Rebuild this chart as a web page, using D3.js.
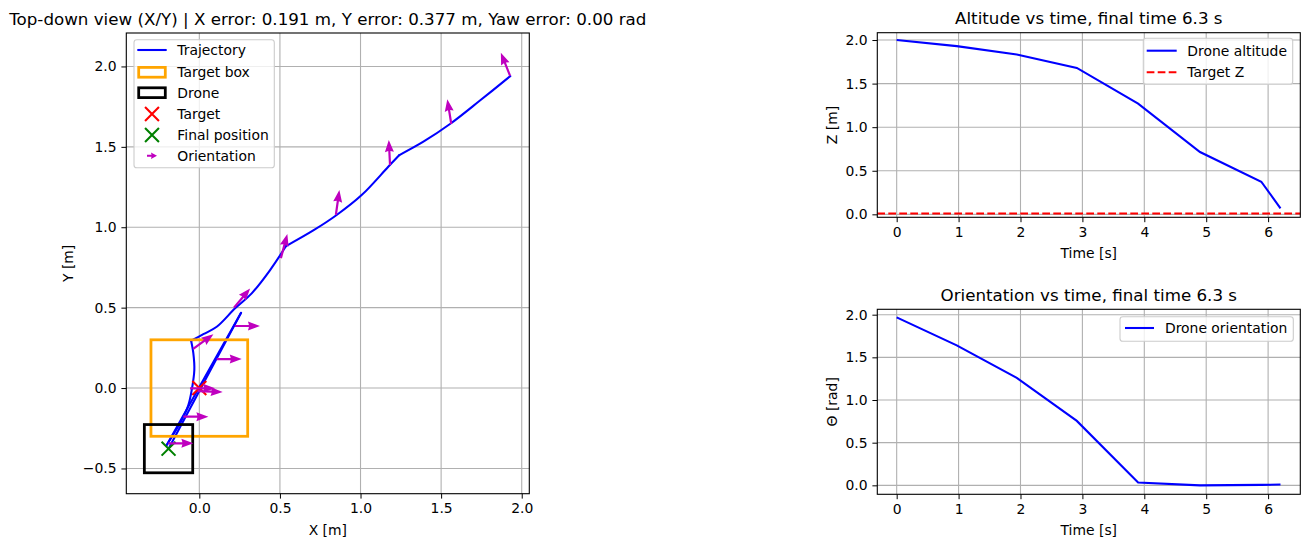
<!DOCTYPE html>
<html>
<head>
<meta charset="utf-8">
<script src="https://cdn.jsdelivr.net/npm/d3@7"></script>
<style>
body { margin: 0; background: #fff; }
text { font-family: 'DejaVu Sans', sans-serif; fill: #000; }
</style>
</head>
<body>
<div id="chart"></div>
<script>
// ---- data ----
// top-down trajectory (m)
const trajX = [1.929, 1.741, 1.555, 1.39, 1.241, 1.172, 1.007, 0.852, 0.707, 0.538, 0.439, 0.325, 0.222, 0.108, 0.025, -0.051,
  -0.037, -0.031, -0.047, -0.068, -0.109, -0.202, 0.259, -0.191];
const trajY = [1.940, 1.788, 1.642, 1.532, 1.449, 1.376, 1.200, 1.076, 0.98, 0.883, 0.734, 0.589, 0.496, 0.381, 0.335, 0.294,
  0.216, 0.112, -0.012, -0.106, -0.199, -0.354, 0.468, -0.377];
// indices where the path has a corner
const trajCorners = [0, 4, 9, 15, 21, 22, 23];
// orientation arrows: base position and heading (rad)
const arrowX = [1.928, 1.563, 1.183, 0.847, 0.506, 0.215, -0.038, 0.221, 0.108, -0.058, -0.010, -0.099, -0.192];
const arrowY = [1.941, 1.642, 1.387, 1.077, 0.808, 0.500, 0.243, 0.386, 0.180, -0.002, -0.019, -0.178, -0.344];
const arrowTheta = [1.95, 1.73, 1.62, 1.43, 1.31, 0.87, 0.63, 0, 0, 0, -0.04, 0, 0];
const targetPos = [0, 0];
const finalPos = [-0.191, -0.377];
const targetHalf = 0.3;
const droneHalf = 0.15;

// time series
const timeS = [0, 0.97, 1.94, 2.91, 3.9, 4.9, 5.89, 6.2];
const altitude = [2.0, 1.93, 1.835, 1.68, 1.27, 0.715, 0.374, 0.069];
const orientation = [1.969, 1.64, 1.26, 0.755, 0.033, 0.0, 0.005, 0.01];
const targetZ = 0.01;

// ticks
const xyTicksX = [0, 0.5, 1.0, 1.5, 2.0];
const xyTicksY = [-0.5, 0, 0.5, 1.0, 1.5, 2.0];
const timeTicks = [0, 1, 2, 3, 4, 5, 6];
const zTicks = [0, 0.5, 1.0, 1.5, 2.0];
const thetaTicks = [0, 0.5, 1.0, 1.5, 2.0];

// ---- styles ----
const width = 1309;
const height = 547;
const tickFont = '13.9px';
const titleFont = '16.7px';
const gridColor = '#b0b0b0';
const blue = '#0000ff';
const magenta = '#bf00bf';
const orange = '#ffa500';
const fmt = d3.format('.1f');

const svg = d3.select('#chart')
  .append('svg')
  .attr('width', width)
  .attr('height', height);

// generic axes frame with grid, ticks, labels
function makeAxes(box, xDomain, yDomain, xTicks, yTicks, xFmt, title, xLabel, yLabel, yLabelX) {
  const x = d3.scaleLinear().domain(xDomain).range([box.left, box.right]);
  const y = d3.scaleLinear().domain(yDomain).range([box.bottom, box.top]);
  const g = svg.append('g');

  g.append('g').selectAll('line.gx').data(xTicks).join('line')
    .attr('x1', d => x(d)).attr('x2', d => x(d))
    .attr('y1', box.top).attr('y2', box.bottom)
    .attr('stroke', gridColor).attr('stroke-width', 1.1);
  g.append('g').selectAll('line.gy').data(yTicks).join('line')
    .attr('y1', d => y(d)).attr('y2', d => y(d))
    .attr('x1', box.left).attr('x2', box.right)
    .attr('stroke', gridColor).attr('stroke-width', 1.1);

  g.append('g')
    .attr('transform', `translate(0,${box.bottom})`)
    .call(d3.axisBottom(x).tickValues(xTicks).tickFormat(xFmt).tickSize(4.9).tickPadding(4.9))
    .call(a => a.select('.domain').remove())
    .call(a => a.selectAll('text').style('font-size', tickFont).style('font-family', "'DejaVu Sans'").attr('fill', '#000'));
  g.append('g')
    .attr('transform', `translate(${box.left},0)`)
    .call(d3.axisLeft(y).tickValues(yTicks).tickFormat(fmt).tickSize(4.9).tickPadding(4.9))
    .call(a => a.select('.domain').remove())
    .call(a => a.selectAll('text').style('font-size', tickFont).style('font-family', "'DejaVu Sans'").attr('fill', '#000'));

  g.append('text')
    .attr('x', (box.left + box.right) / 2)
    .attr('y', box.top - 8.3)
    .attr('text-anchor', 'middle')
    .style('font-size', titleFont)
    .text(title);
  g.append('text')
    .attr('x', (box.left + box.right) / 2)
    .attr('y', box.bottom + 40.8)
    .attr('text-anchor', 'middle')
    .style('font-size', tickFont)
    .text(xLabel);
  g.append('text')
    .attr('transform', `translate(${yLabelX},${(box.top + box.bottom) / 2}) rotate(-90)`)
    .attr('text-anchor', 'middle')
    .style('font-size', tickFont)
    .text(yLabel);

  return {x, y, g, box};
}

function drawFrame(ax) {
  ax.g.append('rect')
    .attr('x', ax.box.left).attr('y', ax.box.top)
    .attr('width', ax.box.right - ax.box.left)
    .attr('height', ax.box.bottom - ax.box.top)
    .attr('fill', 'none').attr('stroke', '#000').attr('stroke-width', 1.1);
}

function xMark(g, cx, cy, color) {
  const s = 6.95;
  g.append('path')
    .attr('d', `M${cx - s},${cy - s}L${cx + s},${cy + s}M${cx - s},${cy + s}L${cx + s},${cy - s}`)
    .attr('stroke', color).attr('stroke-width', 2.08).attr('fill', 'none');
}

// quiver style arrow, pivot at the tail
function arrowPath(L, w, hl, hal, hw) {
  return `M0,${-w / 2}L${L - hal},${-w / 2}L${L - hl},${-hw / 2}L${L},0L${L - hl},${hw / 2}L${L - hal},${w / 2}L0,${w / 2}Z`;
}

function legendBox(g, x0, y0, w, h) {
  g.append('rect')
    .attr('x', x0).attr('y', y0).attr('width', w).attr('height', h)
    .attr('rx', 2.8)
    .attr('fill', '#fff').attr('fill-opacity', 0.8)
    .attr('stroke', '#cccccc').attr('stroke-width', 1.1);
}

// ---------- left: top-down view ----------
const xy = makeAxes({left: 126.3, right: 529.3, top: 33, bottom: 493.7},
  [-0.453, 2.047], [-0.657, 2.208], xyTicksX, xyTicksY, fmt,
  'Top-down view (X/Y) | X error: 0.191 m, Y error: 0.377 m, Yaw error: 0.00 rad',
  'X [m]', 'Y [m]', 73);

// smooth pieces between corners
const trajLine = d3.line()
  .x(i => xy.x(trajX[i])).y(i => xy.y(trajY[i]))
  .curve(d3.curveCatmullRom.alpha(0.5));
const pieces = d3.range(trajCorners.length - 1)
  .map(k => d3.range(trajCorners[k], trajCorners[k + 1] + 1));
xy.g.append('g').selectAll('path').data(pieces).join('path')
  .attr('d', trajLine)
  .attr('fill', 'none').attr('stroke', blue).attr('stroke-width', 2.08)
  .attr('stroke-linejoin', 'round').attr('stroke-linecap', 'round');

xy.g.append('rect')
  .attr('x', xy.x(targetPos[0] - targetHalf)).attr('y', xy.y(targetPos[1] + targetHalf))
  .attr('width', xy.x(targetHalf) - xy.x(-targetHalf))
  .attr('height', xy.y(-targetHalf) - xy.y(targetHalf))
  .attr('fill', 'none').attr('stroke', orange).attr('stroke-width', 2.78);

xy.g.append('rect')
  .attr('x', xy.x(finalPos[0] - droneHalf)).attr('y', xy.y(finalPos[1] + droneHalf))
  .attr('width', xy.x(droneHalf) - xy.x(-droneHalf))
  .attr('height', xy.y(-droneHalf) - xy.y(droneHalf))
  .attr('fill', 'none').attr('stroke', '#000').attr('stroke-width', 2.78);

xMark(xy.g, xy.x(targetPos[0]), xy.y(targetPos[1]), '#ff0000');
xMark(xy.g, xy.x(finalPos[0]), xy.y(finalPos[1]), '#008000');

xy.g.append('g').selectAll('path').data(d3.range(arrowX.length)).join('path')
  .attr('d', arrowPath(25, 2.2, 12, 11, 9))
  .attr('transform', i => `translate(${xy.x(arrowX[i])},${xy.y(arrowY[i])}) rotate(${-arrowTheta[i] * 180 / Math.PI})`)
  .attr('fill', magenta);

drawFrame(xy);

// legend
const lg = xy.g.append('g');
legendBox(lg, 134, 39.7, 140.3, 128);
const rows = [50, 72.3, 92.7, 114, 135, 155.7];
const labels = ['Trajectory', 'Target box', 'Drone', 'Target', 'Final position', 'Orientation'];
lg.append('line').attr('x1', 137.3).attr('x2', 166.7).attr('y1', rows[0]).attr('y2', rows[0])
  .attr('stroke', blue).attr('stroke-width', 2.08);
lg.append('rect').attr('x', 138.7).attr('y', rows[1] - 4.9).attr('width', 26.6).attr('height', 9.8)
  .attr('fill', 'none').attr('stroke', orange).attr('stroke-width', 2.78);
lg.append('rect').attr('x', 138.7).attr('y', rows[2] - 4.9).attr('width', 26.6).attr('height', 9.8)
  .attr('fill', 'none').attr('stroke', '#000').attr('stroke-width', 2.78);
xMark(lg, 152, rows[3], '#ff0000');
xMark(lg, 152, rows[4], '#008000');
lg.append('path').attr('d', arrowPath(10, 2, 6, 5.5, 6.5))
  .attr('transform', `translate(147,${rows[5]})`).attr('fill', magenta);
lg.selectAll('text.lab').data(labels).join('text')
  .attr('x', 177.3).attr('y', (d, i) => rows[i] + 5)
  .style('font-size', tickFont)
  .text(d => d);

// ---------- right top: altitude ----------
const alt = makeAxes({left: 877.3, right: 1300.3, top: 32.7, bottom: 217.3},
  [-0.313, 6.52], [-0.034, 2.084], timeTicks, zTicks, d3.format('d'),
  'Altitude vs time, final time 6.3 s', 'Time [s]', 'Z [m]', 837);

alt.g.append('path')
  .datum(d3.range(timeS.length))
  .attr('d', d3.line().x(i => alt.x(timeS[i])).y(i => alt.y(altitude[i])))
  .attr('fill', 'none').attr('stroke', blue).attr('stroke-width', 2.08);
alt.g.append('line')
  .attr('x1', alt.box.left).attr('x2', alt.box.right)
  .attr('y1', alt.y(targetZ)).attr('y2', alt.y(targetZ))
  .attr('stroke', '#ff0000').attr('stroke-width', 2.08).attr('stroke-dasharray', '7.7,3.3');
drawFrame(alt);

const lg2 = alt.g.append('g');
legendBox(lg2, 1143.3, 38.3, 149.4, 46);
lg2.append('line').attr('x1', 1146.7).attr('x2', 1176.7).attr('y1', 50.7).attr('y2', 50.7)
  .attr('stroke', blue).attr('stroke-width', 2.08);
lg2.append('line').attr('x1', 1146.7).attr('x2', 1176.7).attr('y1', 72.3).attr('y2', 72.3)
  .attr('stroke', '#ff0000').attr('stroke-width', 2.08).attr('stroke-dasharray', '7.7,3.3');
lg2.append('text').attr('x', 1187.3).attr('y', 55.7).style('font-size', tickFont).text('Drone altitude');
lg2.append('text').attr('x', 1187.3).attr('y', 77.3).style('font-size', tickFont).text('Target Z');

// ---------- right bottom: orientation ----------
const ori = makeAxes({left: 877.3, right: 1300.3, top: 309.3, bottom: 494.3},
  [-0.313, 6.52], [-0.105, 2.063], timeTicks, thetaTicks, d3.format('d'),
  'Orientation vs time, final time 6.3 s', 'Time [s]', 'Θ [rad]', 837);

ori.g.append('path')
  .datum(d3.range(timeS.length))
  .attr('d', d3.line().x(i => ori.x(timeS[i])).y(i => ori.y(orientation[i])))
  .attr('fill', 'none').attr('stroke', blue).attr('stroke-width', 2.08);
drawFrame(ori);

const lg3 = ori.g.append('g');
legendBox(lg3, 1120, 316.7, 173.3, 24.6);
lg3.append('line').attr('x1', 1125).attr('x2', 1154).attr('y1', 328).attr('y2', 328)
  .attr('stroke', blue).attr('stroke-width', 2.08);
lg3.append('text').attr('x', 1165).attr('y', 333).style('font-size', tickFont).text('Drone orientation');
</script>
</body>
</html>
